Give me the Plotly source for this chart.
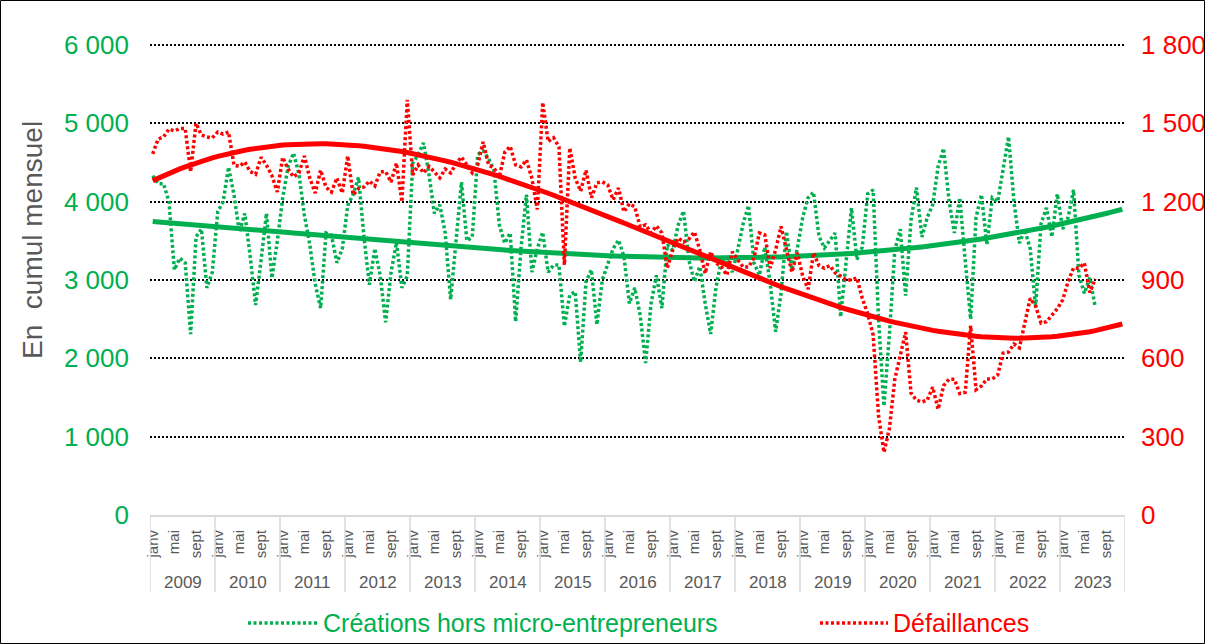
import numpy as np
import plotly.graph_objects as go

YEARS = [str(y) for y in range(2009, 2024)]
MONTH_TICKS = ["janv", "mai", "sept"]
MONTH_TICK_OFFSETS = [0, 4, 8]

creations = [
    4330, 4230, 4230, 4000, 3130, 3280, 3220, 2310, 3550, 3650, 2900, 3100,  # 2009
    3870, 4000, 4440, 4090, 3610, 3850, 3300, 2680, 3250, 3850, 3025, 3490,  # 2010
    4050, 4450, 4620, 4350, 3830, 3450, 2950, 2640, 3600, 3570, 3220, 3400,  # 2011
    3950, 4090, 4310, 3550, 2940, 3400, 3060, 2460, 3100, 3480, 2900, 3050,  # 2012
    4490, 4600, 4750, 4350, 3850, 3960, 3600, 2750, 3500, 4250, 3500, 3550,  # 2013
    4600, 4650, 4550, 4400, 3700, 3470, 3600, 2470, 3410, 4090, 3100, 3400,  # 2014
    3610, 3100, 3190, 3190, 2410, 2810, 2850, 1950, 2980, 3130, 2430, 3000,  # 2015
    3200, 3400, 3510, 3300, 2700, 2900, 2550, 1940, 2700, 3060, 2640, 3450,  # 2016
    3380, 3700, 3880, 3250, 2980, 3170, 2700, 2310, 2910, 3260, 3260, 3100,  # 2017
    3380, 3720, 3950, 3220, 3060, 3420, 2950, 2340, 2830, 3620, 3130, 3400,  # 2018
    3800, 4050, 4120, 3560, 3410, 3500, 3600, 2530, 3220, 3920, 3260, 3420,  # 2019
    4100, 4150, 2500, 1390, 2300, 3380, 3650, 2800, 3770, 4180, 3550, 3800,  # 2020
    3960, 4450, 4680, 4020, 3600, 4050, 3250, 2500, 3800, 4090, 3450, 4050,  # 2021
    4000, 4450, 4830, 4000, 3470, 3640, 3400, 2650, 3720, 3920, 3550, 4100,  # 2022
    3650, 3800, 4150, 3060, 2830, 3030, 2660,                                # 2023
]

defaillances = [
    1383, 1440, 1448, 1478, 1471, 1480, 1480, 1314, 1500, 1455, 1448, 1444,  # 2009
    1467, 1459, 1467, 1340, 1335, 1352, 1315, 1305, 1370, 1340, 1300, 1237,  # 2010
    1370, 1325, 1295, 1310, 1375, 1290, 1233, 1321, 1255, 1237, 1291, 1233,  # 2011
    1375, 1226, 1250, 1256, 1279, 1260, 1314, 1315, 1275, 1348, 1199, 1590,  # 2012
    1302, 1340, 1310, 1335, 1314, 1291, 1325, 1310, 1345, 1371, 1341, 1310,  # 2013
    1341, 1429, 1341, 1329, 1295, 1390, 1412, 1341, 1333, 1360, 1290, 1170,  # 2014
    1580, 1430, 1445, 1410, 958, 1406, 1290, 1240, 1321, 1215, 1272, 1276,   # 2015
    1264, 1207, 1252, 1161, 1192, 1180, 1103, 1111, 1080, 1107, 1080, 946,   # 2016
    1015, 1061, 1045, 1057, 1084, 1015, 925, 1008, 965, 950, 919, 1008,      # 2017
    977, 950, 950, 984, 1080, 1073, 946, 1015, 1105, 1010, 930, 1004,        # 2018
    915, 865, 1004, 955, 945, 955, 927, 915, 900, 900, 908, 830,             # 2019
    770, 690, 380, 240, 330, 520, 610, 700, 467, 440, 433, 440,              # 2020
    490, 405, 495, 520, 520, 465, 470, 725, 480, 494, 521, 521,              # 2021
    536, 620, 624, 655, 640, 730, 830, 800, 735, 740, 765, 790,              # 2022
    824, 895, 946, 945, 965, 852, 904,                                       # 2023
]

LEFT_TICKS = [0, 1000, 2000, 3000, 4000, 5000, 6000]
LEFT_TICKTEXT = ["0", "1 000", "2 000", "3 000", "4 000", "5 000", "6 000"]
RIGHT_TICKS = [0, 300, 600, 900, 1200, 1500, 1800]
RIGHT_TICKTEXT = ["0", "300", "600", "900", "1 200", "1 500", "1 800"]

GREEN = "#00B050"
RED = "#FF0000"
GREY = "#595959"

n_total = 12 * len(YEARS)
x_data = np.arange(len(creations))
x_d = np.arange(len(defaillances))
x_all = np.arange(n_total)

# polynomial trend lines (as in the spreadsheet), extended over the whole axis
tc = np.polyval(np.polyfit(x_data, creations, 3), x_all)
td = np.polyval(np.polyfit(x_d, defaillances, 3), x_all)

fig = go.Figure()
fig.add_trace(go.Scatter(x=x_data, y=creations, mode="lines",
                         line=dict(color=GREEN, width=3.5, dash="3px,2.5px"),
                         name="Créations hors micro-entrepreneurs", yaxis="y"))
fig.add_trace(go.Scatter(x=x_d, y=defaillances, mode="lines",
                         line=dict(color=RED, width=3.5, dash="3px,2.5px"),
                         name="Défaillances", yaxis="y2"))
fig.add_trace(go.Scatter(x=x_all, y=tc, mode="lines",
                         line=dict(color=GREEN, width=5), yaxis="y", showlegend=False))
fig.add_trace(go.Scatter(x=x_all, y=td, mode="lines",
                         line=dict(color=RED, width=5), yaxis="y2", showlegend=False))

tickvals = [12 * k + m for k in range(len(YEARS)) for m in MONTH_TICK_OFFSETS]
ticktext = [MONTH_TICKS[j] for k in range(len(YEARS)) for j in range(len(MONTH_TICKS))]

W, H = 1205, 644
L, R, T, B = 150, 80, 43, 129
PW, PH = W - L - R, H - T - B
YMAX = 6000 * PH / 470.0  # so that 6000 sits 470 px above the baseline


def px(xp):
    return (xp - L) / PW


def py(yp):
    return (H - B - yp) / PH


shapes = []
annotations = []
for k in range(len(YEARS) + 1):
    shapes.append(dict(type="line", xref="x", yref="paper", x0=12 * k - 0.5, x1=12 * k - 0.5,
                       y0=0, y1=py(592), line=dict(color="#D9D9D9", width=1.5)))
for k, yr in enumerate(YEARS):
    annotations.append(dict(x=12 * k + 5.5, xref="x", y=py(582), yref="paper", text=yr,
                            showarrow=False, xanchor="center", yanchor="middle",
                            font=dict(size=17, color=GREY)))

annotations.append(dict(x=px(32), y=py(240), xref="paper", yref="paper", text="En  cumul mensuel",
                        textangle=-90, showarrow=False, xanchor="center", yanchor="middle",
                        font=dict(size=28, color=GREY)))

# legend
leg_y = py(623)
shapes.append(dict(type="line", xref="paper", yref="paper", x0=px(248), x1=px(318), y0=leg_y, y1=leg_y,
                   line=dict(color=GREEN, width=3.5, dash="3px,2.5px")))
annotations.append(dict(x=px(321), y=leg_y, xref="paper", yref="paper",
                        text="Créations hors micro-entrepreneurs", showarrow=False,
                        xanchor="left", yanchor="middle", font=dict(size=25, color=GREEN)))
shapes.append(dict(type="line", xref="paper", yref="paper", x0=px(820), x1=px(888), y0=leg_y, y1=leg_y,
                   line=dict(color=RED, width=3.5, dash="3px,2.5px")))
annotations.append(dict(x=px(891), y=leg_y, xref="paper", yref="paper",
                        text="Défaillances", showarrow=False,
                        xanchor="left", yanchor="middle", font=dict(size=25, color=RED)))

# chart border
shapes.append(dict(type="rect", xref="paper", yref="paper", x0=px(0.5), x1=px(1204.5),
                   y0=py(643.5), y1=py(0.5), line=dict(color="black", width=1)))

fig.update_layout(
    width=W, height=H,
    margin=dict(l=L, r=R, t=T, b=B, autoexpand=False),
    paper_bgcolor="white", plot_bgcolor="white",
    font=dict(family="Liberation Sans, Arial, sans-serif"),
    showlegend=False,
    xaxis=dict(range=[-0.5, n_total - 0.5], tickmode="array", tickvals=tickvals, ticktext=ticktext,
               tickangle=-90, tickfont=dict(size=15, color=GREY), showgrid=False, zeroline=False,
               showline=True, linecolor="#D9D9D9", linewidth=2, ticks="", ticklabelstandoff=7),
    yaxis=dict(range=[0, YMAX], tickmode="array", tickvals=LEFT_TICKS, ticktext=LEFT_TICKTEXT,
               tickfont=dict(size=26, color=GREEN), showgrid=True, gridcolor="black", gridwidth=1.5,
               griddash="2px,2px", zeroline=False, ticks="", ticklabelstandoff=20),
    yaxis2=dict(range=[0, 1800 * YMAX / 6000], tickmode="array", tickvals=RIGHT_TICKS,
                ticktext=RIGHT_TICKTEXT, overlaying="y", side="right",
                tickfont=dict(size=26, color=RED), showgrid=False,
                zeroline=False, ticks="", ticklabelstandoff=15),
    shapes=shapes, annotations=annotations,
)

fig.write_html("out.html", config={"displayModeBar": False},
               post_script="document.body.style.margin='0';")
